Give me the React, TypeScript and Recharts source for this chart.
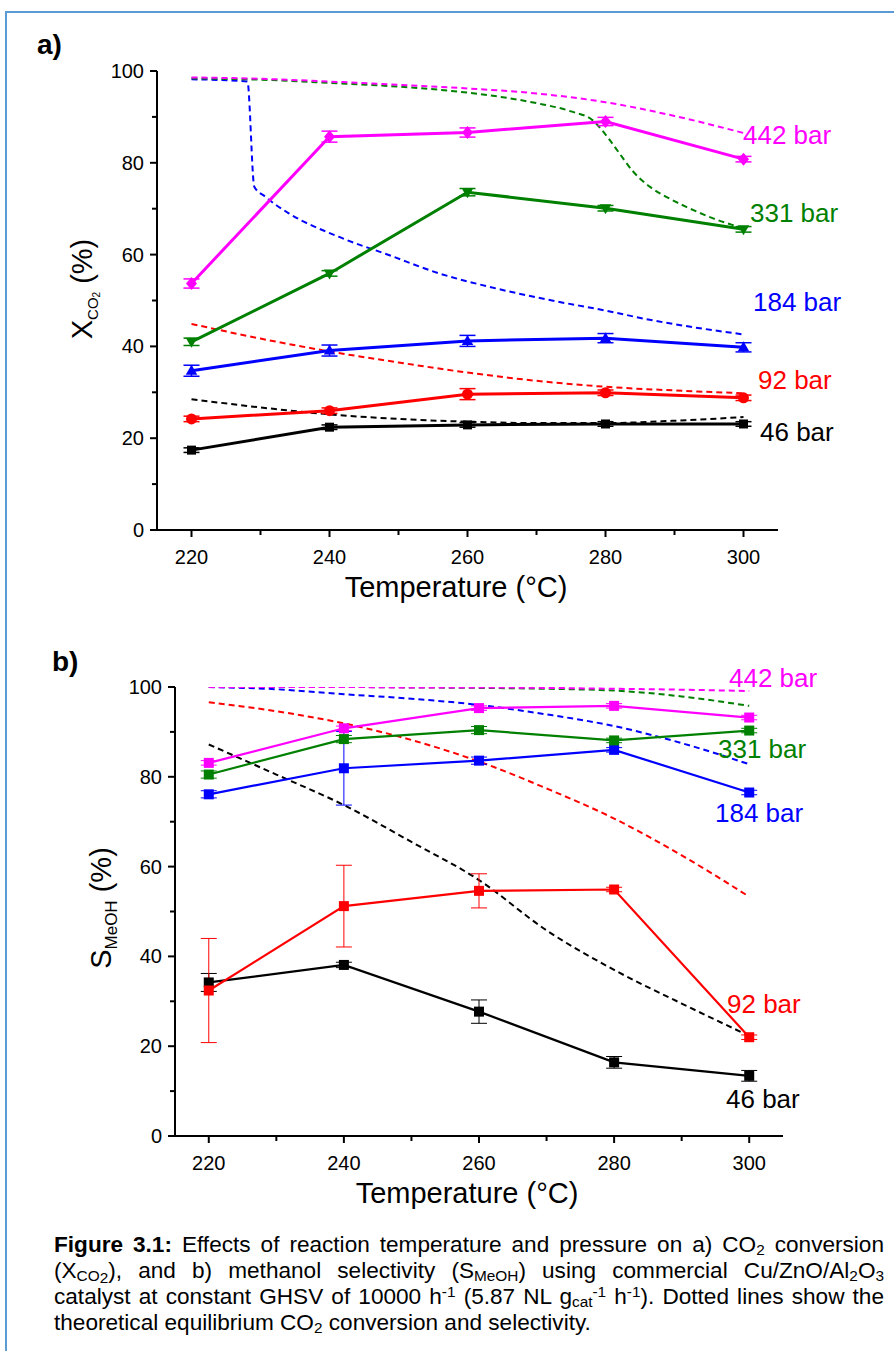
import { LineChart, Line, XAxis, YAxis, ErrorBar } from 'recharts';

const FONT = '"Liberation Sans", Arial, sans-serif';

const temps = [220, 240, 260, 280, 300];
const eqTemps = [220, 230, 240, 250, 260, 270, 280, 290, 300];

// a) CO2 conversion (%), measured
const convA46 = [17.4, 22.4, 22.9, 23.1, 23.1];
const convA92 = [24.2, 26.0, 29.6, 29.9, 28.8];
const convA184 = [34.7, 39.1, 41.2, 41.8, 39.8];
const convA331 = [41.0, 55.9, 73.6, 70.1, 65.5];
const convA442 = [53.7, 85.7, 86.6, 89.0, 80.8];
const errA46 = [0.5, 0.5, 0.5, 0.5, 0.5];
const errA92 = [0.6, 0.6, 1.2, 0.6, 0.6];
const errA184 = [1.2, 1.2, 1.2, 1.0, 1.0];
const errA331 = [0.8, 0.6, 0.8, 0.6, 0.6];
const errA442 = [1.0, 1.2, 1.0, 0.9, 0.6];

// a) equilibrium conversion
const eqA46 = [28.5, 26.7, 25.2, 24.2, 23.6, 23.3, 23.3, 23.8, 24.6];
const eqA92 = [44.9, 41.7, 38.9, 36.5, 34.3, 32.5, 31.2, 30.4, 29.8];
const eqA442 = [98.6, 98.3, 97.7, 97.0, 96.2, 95.1, 93.2, 90.2, 86.5];
const eqA184Temps = [220, 228.1, 229.1, 230.7, 234.1, 241.3, 248.6, 255.9, 263.1, 271.9, 280, 286.4, 300];
const eqA184 = [98.2, 97.7, 74.8, 72.6, 69.0, 63.9, 59.9, 55.9, 53.0, 50.1, 47.8, 45.8, 42.6];
const eqA331Temps = [220, 230, 240, 250, 256, 264.6, 270, 275, 278.1, 280.6, 282, 284, 286.4, 288.8, 291.7, 295.6, 300];
const eqA331 = [98.4, 98.1, 97.4, 96.6, 95.9, 94.4, 93.0, 91.2, 89.3, 85.0, 82.1, 78.1, 74.8, 72.6, 70.4, 67.9, 65.7];

// b) methanol selectivity (%), measured
const selB46 = [34.2, 38.1, 27.7, 16.4, 13.4];
const selB92 = [32.4, 51.2, 54.6, 54.9, 22.0];
const selB184 = [76.1, 81.9, 83.6, 86.0, 76.5];
const selB331 = [80.5, 88.4, 90.4, 88.1, 90.3];
const selB442 = [83.1, 90.8, 95.3, 95.8, 93.2];
const errB46 = [2.0, 0.6, 2.6, 1.3, 1.2];
const errB92 = [11.6, 9.1, 3.8, 0.5, 0.5];
const errB184 = [0.8, 8.2, 0.8, 0.5, 0.5];
const errB331 = [0.8, 0.8, 0.8, 0.5, 0.5];
const errB442 = [0.5, 0.5, 0.5, 0.5, 0.5];

// b) equilibrium selectivity
const eqB46 = [87.2, 80.5, 73.7, 65.5, 57.0, 45.8, 37.0, 29.5, 22.3];
const eqB92 = [96.6, 94.6, 91.9, 88.2, 83.4, 77.4, 70.7, 62.5, 53.3];
const eqB184 = [100, 99.5, 98.4, 97.4, 96.0, 93.9, 91.3, 87.5, 82.8];
const eqB331 = [100, 100, 100, 99.9, 99.8, 99.6, 99.2, 97.9, 95.8];
const eqB442 = [100, 100, 100, 99.9, 99.9, 99.8, 99.6, 99.4, 99.1];

const xTicks = [220, 230, 240, 250, 260, 270, 280, 290, 300];
const yTicks = [0, 10, 20, 30, 40, 50, 60, 70, 80, 90, 100];

const BLACK = '#000000';
const RED = '#ff0000';
const BLUE = '#0000ff';
const GREEN = '#008000';
const MAGENTA = '#ff00ff';

const pts = (ts: number[], vs: number[], es?: number[]) =>
  ts.map((t, i) => ({ t, v: vs[i], e: es ? es[i] : 0 }));

function Marker({ cx, cy, shape, color, size }: any) {
  if (cx == null || cy == null) return null;
  const s = size / 2;
  if (shape === 'square')
    return <rect x={cx - s} y={cy - s} width={size} height={size} fill={color} />;
  if (shape === 'circle') return <circle cx={cx} cy={cy} r={s + 0.5} fill={color} />;
  if (shape === 'up')
    return (
      <polygon
        points={`${cx},${cy - s * 1.2} ${cx + s * 1.15},${cy + s * 0.8} ${cx - s * 1.15},${cy + s * 0.8}`}
        fill={color}
      />
    );
  if (shape === 'down')
    return (
      <polygon
        points={`${cx},${cy + s * 1.2} ${cx + s * 1.15},${cy - s * 0.8} ${cx - s * 1.15},${cy - s * 0.8}`}
        fill={color}
      />
    );
  return (
    <polygon
      points={`${cx},${cy - s * 1.3} ${cx + s * 1.1},${cy} ${cx},${cy + s * 1.3} ${cx - s * 1.1},${cy}`}
      fill={color}
    />
  );
}

const XTick = ({ x, y, payload }: any) => {
  const major = payload.value % 20 === 0;
  return (
    <g>
      <line x1={x} x2={x} y1={y} y2={y + (major ? 7 : 5)} stroke={BLACK} strokeWidth={2} />
      {major && (
        <text x={x} y={y + 27} textAnchor="middle" dominantBaseline="central" fontSize={20} fill={BLACK} style={{ fontFamily: FONT }}>
          {payload.value}
        </text>
      )}
    </g>
  );
};

const YTick = ({ x, y, payload }: any) => {
  const major = payload.value % 20 === 0;
  return (
    <g>
      <line x1={x} x2={x - (major ? 7 : 5)} y1={y} y2={y} stroke={BLACK} strokeWidth={2} />
      {major && (
        <text x={x - 13} y={y} textAnchor="end" dominantBaseline="central" fontSize={20} fill={BLACK} style={{ fontFamily: FONT }}>
          {payload.value}
        </text>
      )}
    </g>
  );
};

const measuredA = [
  { name: '46 bar', data: pts(temps, convA46, errA46), color: BLACK, shape: 'square', size: 9 },
  { name: '92 bar', data: pts(temps, convA92, errA92), color: RED, shape: 'circle', size: 10 },
  { name: '184 bar', data: pts(temps, convA184, errA184), color: BLUE, shape: 'up', size: 10 },
  { name: '331 bar', data: pts(temps, convA331, errA331), color: GREEN, shape: 'down', size: 10 },
  { name: '442 bar', data: pts(temps, convA442, errA442), color: MAGENTA, shape: 'diamond', size: 10 },
];

const equilA = [
  { name: 'eq46', data: pts(eqTemps, eqA46), color: BLACK },
  { name: 'eq92', data: pts(eqTemps, eqA92), color: RED },
  { name: 'eq184', data: pts(eqA184Temps, eqA184), color: BLUE },
  { name: 'eq331', data: pts(eqA331Temps, eqA331), color: GREEN },
  { name: 'eq442', data: pts(eqTemps, eqA442), color: MAGENTA },
];

const measuredB = [
  { name: '46 bar', data: pts(temps, selB46, errB46), color: BLACK, shape: 'square', size: 10 },
  { name: '92 bar', data: pts(temps, selB92, errB92), color: RED, shape: 'square', size: 10 },
  { name: '184 bar', data: pts(temps, selB184, errB184), color: BLUE, shape: 'square', size: 10 },
  { name: '331 bar', data: pts(temps, selB331, errB331), color: GREEN, shape: 'square', size: 10 },
  { name: '442 bar', data: pts(temps, selB442, errB442), color: MAGENTA, shape: 'square', size: 10 },
];

const equilB = [
  { name: 'eq46', data: pts(eqTemps, eqB46), color: BLACK },
  { name: 'eq92', data: pts(eqTemps, eqB92), color: RED },
  { name: 'eq184', data: pts(eqTemps, eqB184), color: BLUE },
  { name: 'eq331', data: pts(eqTemps, eqB331), color: GREEN },
  { name: 'eq442', data: pts(eqTemps, eqB442), color: MAGENTA },
];

function Panel({ measured, equil, margin, lineWidth, errWidth }: any) {
  return (
    <LineChart width={894} height={620} margin={margin}>
      <XAxis
        type="number"
        dataKey="t"
        domain={[215, 305]}
        ticks={xTicks}
        interval={0}
        allowDataOverflow
        height={40}
        tickSize={0}
        tickMargin={0}
        tickLine={false}
        axisLine={{ stroke: BLACK, strokeWidth: 2 }}
        tick={<XTick />}
      />
      <YAxis
        type="number"
        dataKey="v"
        domain={[0, 100]}
        ticks={yTicks}
        interval={0}
        allowDataOverflow
        width={60}
        tickSize={0}
        tickMargin={0}
        tickLine={false}
        axisLine={{ stroke: BLACK, strokeWidth: 2 }}
        tick={<YTick />}
      />
      {equil.map((s: any) => (
        <Line
          key={s.name}
          data={s.data}
          dataKey="v"
          type="monotone"
          stroke={s.color}
          strokeWidth={2}
          strokeDasharray="6 4"
          dot={false}
          activeDot={false}
          isAnimationActive={false}
        />
      ))}
      {measured.map((s: any) => (
        <Line
          key={s.name}
          data={s.data}
          dataKey="v"
          type="linear"
          stroke={s.color}
          strokeWidth={lineWidth}
          dot={(p: any) => (
            <Marker key={p.index} cx={p.cx} cy={p.cy} shape={s.shape} color={s.color} size={s.size} />
          )}
          activeDot={false}
          isAnimationActive={false}
        >
          <ErrorBar dataKey="e" direction="y" width={8} stroke={s.color} strokeWidth={errWidth} />
        </Line>
      ))}
    </LineChart>
  );
}

const txt = { fontFamily: FONT };
const sub = { fontSize: '0.68em', lineHeight: 0, verticalAlign: '-0.18em' };
const sup = { fontSize: '0.68em', lineHeight: 0, verticalAlign: '0.45em' };
const subsub = { fontSize: '1em', lineHeight: 0, verticalAlign: '-0.15em' };

export default function App() {
  return (
    <div
      style={{
        position: 'absolute',
        left: 0,
        top: 0,
        width: 894,
        height: 1351,
        background: '#fff',
        overflow: 'hidden',
        fontFamily: FONT,
      }}
    >
      <div
        style={{
          position: 'absolute',
          left: 5,
          top: 11,
          width: 900,
          height: 1400,
          borderLeft: '2px solid #5b9bd5',
          borderTop: '2px solid #5b9bd5',
        }}
      />
      <div style={{ position: 'absolute', left: 0, top: 0 }}>
        <Panel
          measured={measuredA}
          equil={equilA}
          margin={{ top: 71, right: 116, bottom: 50, left: 97 }}
          lineWidth={3}
          errWidth={1.5}
        />
      </div>
      <div style={{ position: 'absolute', left: 0, top: 620 }}>
        <Panel
          measured={measuredB}
          equil={equilB}
          margin={{ top: 67, right: 111, bottom: 64, left: 115 }}
          lineWidth={2.2}
          errWidth={1}
        />
      </div>
      <svg
        width={894}
        height={1351}
        style={{ position: 'absolute', left: 0, top: 0, pointerEvents: 'none' }}
      >
        <text x={37} y={54} fontSize={28} fontWeight="bold" style={txt}>a)</text>
        <text x={52} y={671} fontSize={28} fontWeight="bold" style={txt}>b)</text>

        <text x={456} y={587} fontSize={29} textAnchor="middle" dominantBaseline="central" style={txt}>
          Temperature (°C)
        </text>
        <text x={467} y={1193} fontSize={29} textAnchor="middle" dominantBaseline="central" style={txt}>
          Temperature (°C)
        </text>

        <text transform="translate(92,289) rotate(-90)" fontSize={29} textAnchor="middle" style={txt}>
          X<tspan fontSize={15} dy={6}>CO</tspan>
          <tspan fontSize={10} dy={2}>2</tspan>
          <tspan fontSize={29} dy={-8}> (%)</tspan>
        </text>
        <text transform="translate(111,908) rotate(-90)" fontSize={29} textAnchor="middle" style={txt}>
          S<tspan fontSize={17} dy={6}>MeOH</tspan>
          <tspan fontSize={29} dy={-6}> (%)</tspan>
        </text>

        <g fontSize={26} dominantBaseline="central" style={txt}>
          <text x={743} y={135} fill={MAGENTA}>442 bar</text>
          <text x={750} y={213} fill={GREEN}>331 bar</text>
          <text x={753} y={302} fill={BLUE}>184 bar</text>
          <text x={758} y={380} fill={RED}>92 bar</text>
          <text x={760} y={432} fill={BLACK}>46 bar</text>

          <text x={729} y={678} fill={MAGENTA}>442 bar</text>
          <text x={718} y={749} fill={GREEN}>331 bar</text>
          <text x={715} y={813} fill={BLUE}>184 bar</text>
          <text x={727} y={1004} fill={RED}>92 bar</text>
          <text x={726} y={1099} fill={BLACK}>46 bar</text>
        </g>
      </svg>
      <div
        style={{
          position: 'absolute',
          left: 54,
          top: 1232,
          width: 830,
          fontSize: 22.6,
          lineHeight: '26px',
          textAlign: 'justify',
          color: '#000',
        }}
      >
        <b>Figure 3.1:</b> Effects of reaction temperature and pressure on a) CO<sub style={sub}>2</sub>{' '}
        conversion (X<sub style={sub}>CO<sub style={subsub}>2</sub></sub>), and b) methanol selectivity (S
        <sub style={sub}>MeOH</sub>) using commercial Cu/ZnO/Al<sub style={sub}>2</sub>O<sub style={sub}>3</sub>{' '}
        catalyst at constant GHSV of 10000 h<sup style={sup}>-1</sup> (5.87 NL g<sub style={sub}>cat</sub>
        <sup style={sup}>-1</sup> h<sup style={sup}>-1</sup>). Dotted lines show the theoretical equilibrium CO
        <sub style={sub}>2</sub> conversion and selectivity.
      </div>
    </div>
  );
}
